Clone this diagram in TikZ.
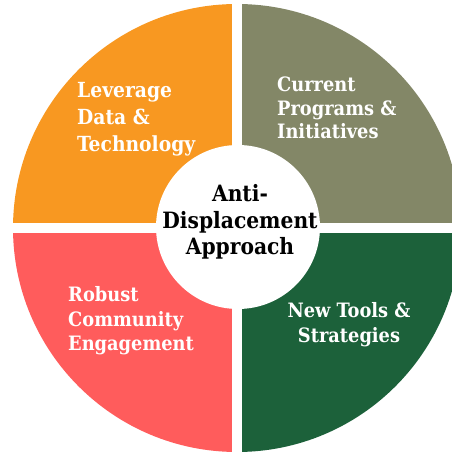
\documentclass[tikz,border=0pt]{standalone}
\usepackage{fontspec}
\setmainfont{DejaVu Serif Condensed}
\usepackage{xcolor}
\usepackage{tikz}
\definecolor{leverorange}{HTML}{F89821}
\definecolor{progolive}{HTML}{838767}
\definecolor{communityred}{HTML}{FF5C5C}
\definecolor{toolsgreen}{HTML}{1C613A}
\tikzset{
    quartertext/.style args={#1/#2}{text=white, inner sep=0pt, font=\bfseries\fontsize{#1}{#2}\selectfont},
    hubtext/.style={text=black, inner sep=0pt, align=center, font=\bfseries\fontsize{22.5}{26.5}\selectfont}
}

\begin{document}
\begin{tikzpicture}[x=1pt,y=1pt]
    \useasboundingbox (0,0) rectangle (452,455);
    \clip (0,0) rectangle (452,455);

    % the four quarters
    \begin{scope}
        \clip (237,227) circle (224);
        \fill[leverorange]  (0,232)   rectangle (232,455);
        \fill[progolive]    (242,232) rectangle (452,455);
        \fill[communityred] (0,0)     rectangle (232,222);
        \fill[toolsgreen]   (242,0)   rectangle (452,222);
    \end{scope}

    % hub in the middle
    \fill[white] (238,228) circle (82);

    % base anchor sits on the last line
    \node[quartertext=20.8/27,   align=left,   anchor=base west] (lev) at (77,303) {Leverage\\Data \&\\Technology};
    \node[quartertext=19.8/23.5, align=left,   anchor=base west] (cur) at (277,316) {Current\\Programs \&\\Initiatives};
    \node[quartertext=19.8/24.5, align=left,   anchor=base west] (rob) at (68,104) {Robust\\Community\\Engagement};
    \node[quartertext=19.8/25,   align=center, anchor=base]      (new) at (349,112) {New Tools \&\\Strategies};
    \node[hubtext, anchor=base] (hub) at (240,200) {Anti-\\Displacement\\Approach};
\end{tikzpicture}
\end{document}
